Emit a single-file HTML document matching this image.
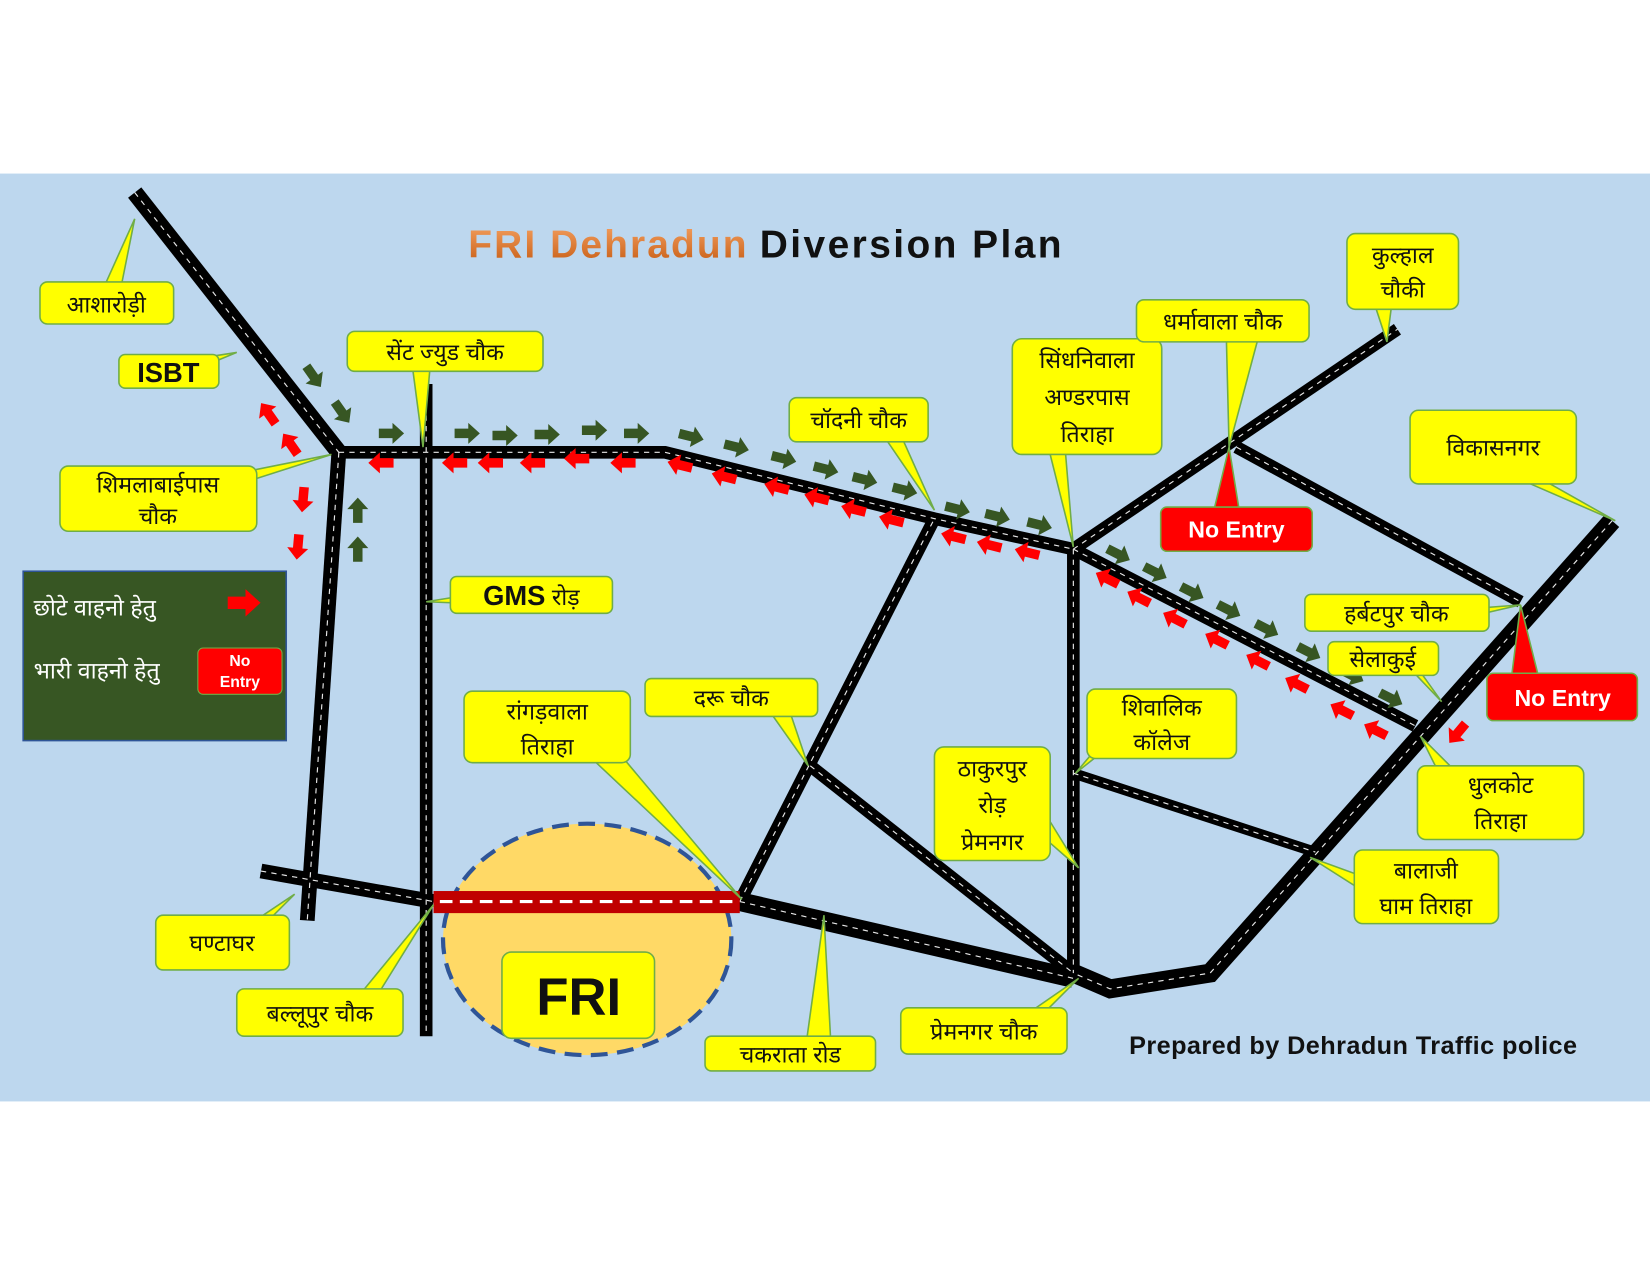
<!DOCTYPE html>
<html><head><meta charset="utf-8"><style>
html,body{margin:0;padding:0;background:#fff;}
svg{display:block;}
text{font-family:"Liberation Sans","DejaVu Sans",sans-serif;}
</style></head><body>
<svg width="1650" height="1275" viewBox="0 0 1568 1212" preserveAspectRatio="none" xmlns="http://www.w3.org/2000/svg">
<defs>
<polygon id="ar" points="-12,-4.5 1,-4.5 1,-10 12,0 1,10 1,4.5 -12,4.5"/>
<linearGradient id="og" x1="0" y1="0" x2="0" y2="1"><stop offset="0" stop-color="#f4a060"/><stop offset="1" stop-color="#c55a11"/></linearGradient>
</defs>
<rect x="0" y="0" width="1568" height="1212" fill="#fff"/>
<rect x="0" y="165" width="1568" height="882" fill="#bdd7ee"/>

<text x="445" y="245" font-size="37" font-weight="bold" fill="url(#og)" letter-spacing="2">FRI Dehradun</text>
<text x="722" y="245" font-size="37" font-weight="bold" fill="#111" letter-spacing="2.3">Diversion Plan</text>

<!-- roads -->
<g fill="none" stroke-linecap="butt" stroke-linejoin="miter">
<g stroke="#000">
<polyline points="128,183 322,430" stroke-width="16"/>
<polyline points="322,430 292,875" stroke-width="14"/>
<polyline points="322,430 632,430 888,493 1020,522" stroke-width="12"/>
<polyline points="405,365 405,985" stroke-width="12"/>
<polyline points="248,828 412,857" stroke-width="14"/>
<polyline points="703,857 1020,930" stroke-width="18"/>
<polyline points="703,857 888,493" stroke-width="12"/>
<polyline points="770,728 1020,925" stroke-width="12"/>
<polyline points="1020,522 1020,925" stroke-width="12"/>
<polyline points="1020,522 1328,313" stroke-width="12"/>
<polyline points="1175,425 1445,572" stroke-width="12"/>
<polyline points="1020,522 1345,690" stroke-width="12"/>
<polyline points="1020,735 1250,810" stroke-width="10"/>
<polyline points="1532,495 1150,925 1055,940 1020,925" stroke-width="18"/>
</g>
<g stroke="#fff" stroke-width="1.1" stroke-dasharray="5,5" opacity="0.9">
<polyline points="128,183 322,430"/>
<polyline points="322,430 292,875"/>
<polyline points="322,430 632,430 888,493 1020,522"/>
<polyline points="405,365 405,985"/>
<polyline points="248,828 412,857"/>
<polyline points="703,857 1020,930"/>
<polyline points="703,857 888,493"/>
<polyline points="770,728 1020,925"/>
<polyline points="1020,522 1020,925"/>
<polyline points="1020,522 1328,313"/>
<polyline points="1175,425 1445,572"/>
<polyline points="1020,522 1345,690"/>
<polyline points="1020,735 1250,810"/>
<polyline points="1532,495 1150,925 1055,940 1020,925"/>
</g>
</g>

<!-- FRI circle -->
<ellipse cx="558" cy="893" rx="137" ry="110" fill="#ffd966" stroke="#2f5597" stroke-width="4" stroke-dasharray="16,9"/>
<rect x="412" y="847" width="291" height="21" fill="#c00000"/>
<line x1="418" y1="857" x2="700" y2="857" stroke="#fff" stroke-width="3" stroke-dasharray="12,7"/>

<!-- green arrows -->
<g fill="#375623">
<use href="#ar" transform="translate(298,358) rotate(55)"/>
<use href="#ar" transform="translate(325,392) rotate(55)"/>
<use href="#ar" transform="translate(340,485) rotate(-90)"/>
<use href="#ar" transform="translate(340,522) rotate(-90)"/>
<use href="#ar" transform="translate(372,412)"/>
<use href="#ar" transform="translate(444,412)"/>
<use href="#ar" transform="translate(480,414)"/>
<use href="#ar" transform="translate(520,413)"/>
<use href="#ar" transform="translate(565,409)"/>
<use href="#ar" transform="translate(605,412)"/>
<use href="#ar" transform="translate(657,415) rotate(14)"/>
<use href="#ar" transform="translate(700,425) rotate(14)"/>
<use href="#ar" transform="translate(745,436) rotate(14)"/>
<use href="#ar" transform="translate(785,446) rotate(14)"/>
<use href="#ar" transform="translate(822,456) rotate(14)"/>
<use href="#ar" transform="translate(860,466) rotate(14)"/>
<use href="#ar" transform="translate(910,484) rotate(14)"/>
<use href="#ar" transform="translate(948,491) rotate(14)"/>
<use href="#ar" transform="translate(988,499) rotate(14)"/>
<use href="#ar" transform="translate(1063,527) rotate(27)"/>
<use href="#ar" transform="translate(1098,544) rotate(27)"/>
<use href="#ar" transform="translate(1133,563) rotate(27)"/>
<use href="#ar" transform="translate(1168,580) rotate(27)"/>
<use href="#ar" transform="translate(1204,598) rotate(27)"/>
<use href="#ar" transform="translate(1244,620) rotate(27)"/>
<use href="#ar" transform="translate(1285,642) rotate(27)"/>
<use href="#ar" transform="translate(1322,664) rotate(27)"/>
</g>
<!-- red arrows -->
<g fill="#ff0000">
<use href="#ar" transform="translate(255,393) rotate(-125)"/>
<use href="#ar" transform="translate(276,422) rotate(-125)"/>
<use href="#ar" transform="translate(288,475) rotate(95)"/>
<use href="#ar" transform="translate(283,520) rotate(95)"/>
<use href="#ar" transform="translate(362,440) rotate(180)"/>
<use href="#ar" transform="translate(432,440) rotate(180)"/>
<use href="#ar" transform="translate(466,440) rotate(180)"/>
<use href="#ar" transform="translate(506,440) rotate(180)"/>
<use href="#ar" transform="translate(548,436) rotate(180)"/>
<use href="#ar" transform="translate(592,440) rotate(180)"/>
<use href="#ar" transform="translate(646,442) rotate(194)"/>
<use href="#ar" transform="translate(688,453) rotate(194)"/>
<use href="#ar" transform="translate(738,463) rotate(194)"/>
<use href="#ar" transform="translate(776,473) rotate(194)"/>
<use href="#ar" transform="translate(811,484) rotate(194)"/>
<use href="#ar" transform="translate(847,494) rotate(194)"/>
<use href="#ar" transform="translate(906,510) rotate(194)"/>
<use href="#ar" transform="translate(940,518) rotate(194)"/>
<use href="#ar" transform="translate(976,525) rotate(194)"/>
<use href="#ar" transform="translate(1052,550) rotate(207)"/>
<use href="#ar" transform="translate(1082,568) rotate(207)"/>
<use href="#ar" transform="translate(1116,588) rotate(207)"/>
<use href="#ar" transform="translate(1156,608) rotate(207)"/>
<use href="#ar" transform="translate(1195,628) rotate(207)"/>
<use href="#ar" transform="translate(1232,650) rotate(207)"/>
<use href="#ar" transform="translate(1275,675) rotate(207)"/>
<use href="#ar" transform="translate(1307,694) rotate(207)"/>
<use href="#ar" transform="translate(1385,697) rotate(130)"/>
</g>

<!-- legend -->
<rect x="22" y="543" width="250" height="161" fill="#375623" stroke="#2f5597" stroke-width="1.5"/>
<text x="32" y="585" font-size="22" fill="#fff">छोटे वाहनो हेतु</text>
<text x="32" y="645" font-size="22" fill="#fff">भारी वाहनो हेतु</text>
<use href="#ar" fill="#ff0000" transform="translate(232,573) scale(1.3)"/>
<rect x="188" y="616" width="80" height="44" rx="5" fill="#ff0000" stroke="#70ad47"/>
<text x="228" y="633" font-size="15" font-weight="bold" fill="#fff" text-anchor="middle">No</text>
<text x="228" y="653" font-size="15" font-weight="bold" fill="#fff" text-anchor="middle">Entry</text>

<!-- callouts -->
<g stroke="#70ad47" stroke-width="1.5" fill="#ffff00">
<polygon points="92,288 112,288 128,208"/><rect x="38" y="268" width="127" height="40" rx="7"/>
<polygon points="160,345 160,362 225,335"/><rect x="113" y="337" width="95" height="32" rx="6"/>
<polygon points="390,334 410,334 402,425"/><rect x="330" y="315" width="186" height="38" rx="7"/>
<polygon points="150,465 150,485 315,432"/><rect x="57" y="443" width="187" height="62" rx="8"/>
<polygon points="480,560 480,575 405,572"/><rect x="428" y="548" width="154" height="35" rx="6"/>
<polygon points="830,400 850,400 888,485"/><rect x="750" y="378" width="132" height="42" rx="7"/>
<polygon points="990,400 1010,400 1020,520"/><rect x="962" y="322" width="142" height="110" rx="9"/>
<polygon points="1165,305 1200,305 1168,425"/><rect x="1080" y="285" width="164" height="40" rx="7"/>
<polygon points="1300,270 1325,270 1318,325"/><rect x="1280" y="222" width="106" height="72" rx="8"/>
<polygon points="1420,430 1420,445 1535,495"/><rect x="1340" y="390" width="158" height="70" rx="8"/>
<polygon points="1380,580 1380,590 1445,575"/><rect x="1240" y="565" width="175" height="35" rx="6"/>
<polygon points="1330,625 1340,625 1370,667"/><rect x="1262" y="610" width="105" height="32" rx="6"/>
<polygon points="1370,740 1390,740 1350,700"/><rect x="1347" y="728" width="158" height="70" rx="8"/>
<polygon points="1060,690 1060,705 1022,735"/><rect x="1033" y="655" width="142" height="66" rx="8"/>
<polygon points="985,760 985,790 1025,825"/><rect x="888" y="710" width="110" height="108" rx="9"/>
<polygon points="1300,835 1300,850 1245,815"/><rect x="1287" y="808" width="137" height="70" rx="8"/>
<polygon points="720,660 745,660 768,728"/><rect x="613" y="645" width="164" height="36" rx="6"/>
<polygon points="540,700 575,700 705,855"/><rect x="441" y="657" width="158" height="68" rx="8"/>
<polygon points="220,890 240,890 280,850"/><rect x="148" y="870" width="127" height="52" rx="7"/>
<polygon points="330,960 350,960 412,860"/><rect x="225" y="940" width="158" height="45" rx="7"/>
<polygon points="765,1000 790,1000 783,870"/><rect x="670" y="985" width="162" height="33" rx="6"/>
<polygon points="960,975 980,975 1025,930"/><rect x="856" y="958" width="158" height="44" rx="7"/>
<rect x="477" y="905" width="145" height="82" rx="9"/>
</g>
<g stroke="#70ad47" stroke-width="1.5" fill="#ff0000">
<polygon points="1150,500 1180,500 1168,425"/><rect x="1103" y="482" width="144" height="42" rx="6"/>
<polygon points="1435,655 1465,655 1445,575"/><rect x="1413" y="640" width="143" height="45" rx="6"/>
</g>

<g font-size="22" fill="#111" text-anchor="middle">
<text x="101" y="297">आशारोड़ी</text>
<text x="160" y="363" font-weight="bold" font-size="26">ISBT</text>
<text x="423" y="342">सेंट ज्युड चौक</text>
<text x="150" y="468">शिमलाबाईपास</text>
<text x="150" y="498">चौक</text>
<text x="505" y="575"><tspan font-weight="bold" font-size="26">GMS</tspan> रोड़</text>
<text x="816" y="407">चॉदनी चौक</text>
<text x="1033" y="350">सिंधनिवाला</text>
<text x="1033" y="385">अण्डरपास</text>
<text x="1033" y="420">तिराहा</text>
<text x="1162" y="313">धर्मावाला चौक</text>
<text x="1333" y="250">कुल्हाल</text>
<text x="1333" y="283">चौकी</text>
<text x="1419" y="433">विकासनगर</text>
<text x="1327" y="591">हर्बटपुर चौक</text>
<text x="1314" y="634">सेलाकुई</text>
<text x="1426" y="754">धुलकोट</text>
<text x="1426" y="788">तिराहा</text>
<text x="1104" y="680">शिवालिक</text>
<text x="1104" y="713">कॉलेज</text>
<text x="943" y="738">ठाकुरपुर</text>
<text x="943" y="773">रोड़</text>
<text x="943" y="808">प्रेमनगर</text>
<text x="1355" y="835">बालाजी</text>
<text x="1355" y="869">घाम तिराहा</text>
<text x="695" y="671">दरू चौक</text>
<text x="520" y="684">रांगड़वाला</text>
<text x="520" y="717">तिराहा</text>
<text x="211" y="904">घण्टाघर</text>
<text x="304" y="971">बल्लूपुर चौक</text>
<text x="751" y="1010">चकराता रोड</text>
<text x="935" y="988">प्रेमनगर चौक</text>
<text x="550" y="965" font-size="50" font-weight="bold">FRI</text>
<text x="1175" y="511" font-size="22" font-weight="bold" fill="#fff">No Entry</text>
<text x="1485" y="671" font-size="22" font-weight="bold" fill="#fff">No Entry</text>
</g>
<text x="1073" y="1002" font-size="24" font-weight="bold" fill="#111" letter-spacing="0.4">Prepared by Dehradun Traffic police</text>
</svg>
</body></html>
